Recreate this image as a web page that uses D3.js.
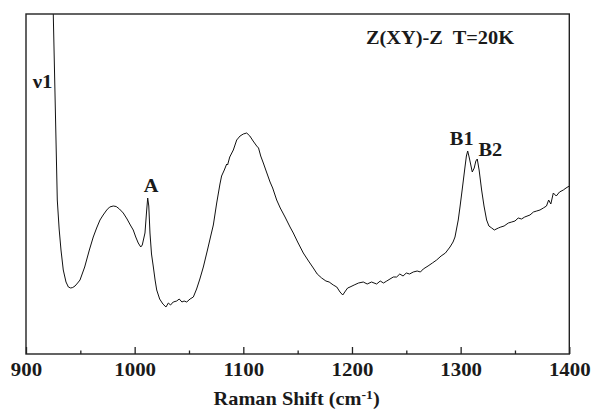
<!DOCTYPE html>
<html>
<head>
<meta charset="utf-8">
<script src="https://cdn.jsdelivr.net/npm/d3@7"></script>
<style>
  html, body { margin: 0; padding: 0; background: #fff; }
  svg text { font-family: "Liberation Serif", "DejaVu Serif", serif; font-weight: bold; fill: #1a1a1a; }
</style>
</head>
<body>
<svg id="chart" width="592" height="410"></svg>
<script>
// Raman spectrum, Z(XY)-Z geometry at 20 K (intensity in arbitrary units)
const shift = [
  923.5, 925.1, 926.9, 928.8, 930.5, 932.2, 934.3, 936.8, 939, 941.1,
  943, 945.1, 947.5, 949.7, 954, 958.3, 961.9, 965, 968.1, 971,
  974.3, 977, 980.3, 983, 986, 989.5, 993, 996, 998.7, 1001,
  1003.3, 1005.6, 1007, 1009.5, 1011, 1012, 1013, 1014.1, 1015.5, 1017.2,
  1018.8, 1020.3, 1023, 1026, 1028.8, 1031, 1033, 1035.5, 1038.7, 1041,
  1043.5, 1045.5, 1047.9, 1051, 1054, 1057, 1060, 1063.2, 1067, 1070,
  1072.4, 1075.5, 1078.5, 1080, 1082.5, 1084.7, 1085.5, 1087.5, 1090.8, 1093.9,
  1097, 1100, 1103.1, 1106, 1109, 1112.3, 1114, 1116, 1118.4, 1121,
  1124.6, 1127, 1130.7, 1134, 1138.4, 1143, 1146, 1150, 1155.2, 1160,
  1164.4, 1168, 1172.1, 1176, 1179, 1182.8, 1186, 1189, 1191.5, 1194,
  1196, 1198.2, 1202, 1206, 1210.4, 1214, 1218, 1222.7, 1226, 1229,
  1232, 1235, 1238, 1241.1, 1244, 1247, 1250, 1253, 1256.4, 1260,
  1263, 1265.6, 1270, 1274, 1277.9, 1282, 1286, 1290.2, 1293, 1294.8,
  1297.8, 1299.4, 1301.5, 1304, 1305.3, 1306.5, 1308, 1310.7, 1312.5, 1314,
  1315.3, 1317, 1319.3, 1321.5, 1323.9, 1326, 1328.6, 1331, 1334.7, 1337,
  1340, 1343.9, 1347, 1350, 1353, 1356, 1359, 1363.8, 1367, 1370,
  1373, 1376.1, 1379, 1381, 1383, 1385.3, 1388, 1391, 1394.5, 1397,
  1400
];
const intensity = [
  420, 340, 250, 154, 125, 104, 84, 72, 67, 66,
  66.5, 68, 71, 74, 87, 104, 117, 126, 134, 139,
  144, 147, 148, 147.5, 145, 141, 135, 129, 124, 117,
  111, 107, 109, 121, 143, 156, 148, 121, 100, 87,
  74, 64, 55, 50, 47, 51, 49, 52, 53, 55,
  52, 53, 52, 55, 57, 65, 75, 87, 104, 118,
  129, 151, 170, 178, 184, 190, 189, 197, 204, 214,
  218, 220, 221, 218, 213, 208, 206, 198, 191, 183,
  172, 166, 154, 146, 137, 127, 121, 112, 101, 93,
  86, 80, 76, 73, 72, 69, 67, 62, 59, 63,
  66, 67, 69, 71, 72, 70, 72, 70, 73, 71,
  73, 75, 77, 77, 80, 78, 81, 80, 82, 83,
  82, 85, 88, 91, 94, 98, 101, 107, 112, 117,
  134, 147, 165, 187, 198, 203, 196, 182, 186, 193,
  195, 184, 164, 148, 134, 128, 126, 124, 126, 127,
  128, 131, 132, 133, 136, 135, 137, 139, 142, 143,
  144, 146, 148, 154, 150, 161, 158, 162, 164, 166,
  168
];

// Peak annotations
const peakNames = ["A", "B1", "B2"];
const peakShifts = [1012, 1306.5, 1315.3];
const peakHeights = [156, 203, 195];

const xTicks = [900, 1000, 1100, 1200, 1300, 1400];
const xMinorTicks = [950, 1050, 1150, 1250, 1350];

const serif = '"Liberation Serif", "DejaVu Serif", serif';
const widen = 1.1; // glyphs are set slightly wide
const svg = d3.select("#chart");
const plot = { left: 26, right: 569.3, top: 14, bottom: 354 };

const x = d3.scaleLinear().domain([900, 1400]).range([plot.left, plot.right]);
const y = d3.scaleLinear().domain([0, 340]).range([plot.bottom, plot.top]);

svg.append("defs").append("clipPath").attr("id", "plot-clip")
  .append("rect")
  .attr("x", plot.left).attr("y", plot.top)
  .attr("width", plot.right - plot.left).attr("height", plot.bottom - plot.top);

// Spectrum trace
const pts = shift.map((s, i) => [s, intensity[i]]);
const line = d3.line().x(d => x(d[0])).y(d => y(d[1]));
svg.append("path")
  .attr("clip-path", "url(#plot-clip)")
  .attr("d", line(pts))
  .attr("fill", "none")
  .attr("stroke", "#111")
  .attr("stroke-width", 1)
  .attr("stroke-linejoin", "round");

// Major ticks with labels (pointing inward)
const xAxis = svg.append("g")
  .attr("transform", `translate(0,${plot.bottom})`)
  .call(d3.axisBottom(x).tickValues(xTicks).tickSize(-7).tickPadding(9).tickFormat(d3.format("d")));
xAxis.attr("font-family", serif);
xAxis.select(".domain").remove();
xAxis.selectAll(".tick line").attr("stroke", "#222").attr("stroke-width", 1.3);
xAxis.selectAll(".tick text")
  .attr("font-size", 19)
  .attr("fill", "#1a1a1a")
  .attr("font-family", serif)
  .attr("font-weight", "bold")
  .attr("transform", `scale(${widen},1)`);

// Minor ticks
const xMinor = svg.append("g")
  .attr("transform", `translate(0,${plot.bottom})`)
  .call(d3.axisBottom(x).tickValues(xMinorTicks).tickSize(-3.5).tickFormat(""));
xMinor.select(".domain").remove();
xMinor.selectAll(".tick line").attr("stroke", "#222").attr("stroke-width", 1.3);

// Frame
svg.append("rect")
  .attr("x", plot.left).attr("y", plot.top)
  .attr("width", plot.right - plot.left).attr("height", plot.bottom - plot.top)
  .attr("fill", "none")
  .attr("stroke", "#222")
  .attr("stroke-width", 1.4);

// Helper for labels placed at a point and widened horizontally
function label(px, py, size, anchor) {
  return svg.append("text")
    .attr("transform", `translate(${px},${py}) scale(${widen},1)`)
    .attr("text-anchor", anchor)
    .attr("font-family", serif)
    .attr("font-size", size);
}

// Axis title
const title = label((plot.left + plot.right) / 2 - 1, 405, 18.5, "middle");
title.append("tspan").text("Raman Shift (cm");
title.append("tspan").attr("font-size", 12.5).attr("dy", -6).text("-1");
title.append("tspan").attr("dy", 6).text(")");

// Geometry / temperature note
label(366, 43.5, 18.5, "start")
  .style("white-space", "pre")
  .text("Z(XY)-Z  T=20K");

// ν1 label beside the strong off-scale band
label(52.5, 88, 19, "end").text("ν1");

// Peak labels
const labelOffsets = [[3.5, -6], [-6, -6], [13, -3]];
peakNames.forEach((name, i) => {
  label(x(peakShifts[i]) + labelOffsets[i][0], y(peakHeights[i]) + labelOffsets[i][1], 18.5, "middle")
    .text(name);
});
</script>
</body>
</html>
